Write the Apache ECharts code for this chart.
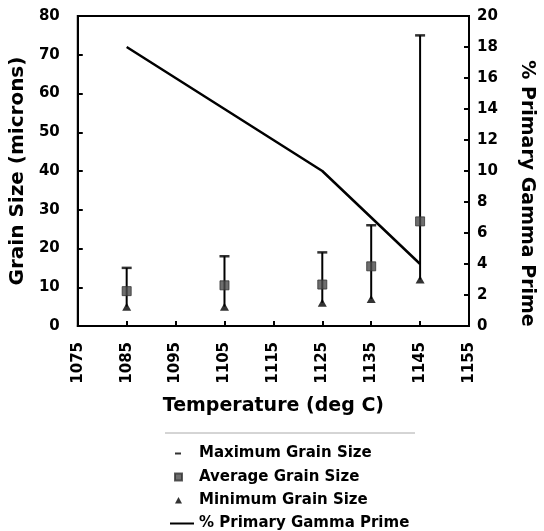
<!DOCTYPE html>
<html>
<head>
<meta charset="utf-8">
<script src="https://cdn.jsdelivr.net/npm/echarts@6/dist/echarts.min.js"></script>
<style>
html,body{margin:0;padding:0;background:#fff;}
#chart{width:544px;height:531px;}
</style>
</head>
<body>
<div id="chart"></div>
<script>
const temperatures = [1085, 1105, 1125, 1135, 1145];
const maxGrain = [15, 18, 19, 26, 75];
const avgGrain = [9, 10.5, 10.7, 15.4, 27];
const minGrain = [5, 5, 6, 7, 12];
const gammaPrime = [18, 14, 10, 7, 4];

const FONT = '"DejaVu Sans", "Liberation Sans", Arial, sans-serif';
const chart = echarts.init(document.getElementById('chart'), null, {renderer: 'canvas'});

const pair = (ys) => temperatures.map((t, i) => [t, ys[i]]);
const barData = temperatures.map((t, i) => [t, minGrain[i], maxGrain[i]]);

const option = {
  backgroundColor: '#fff',
  animation: false,
  grid: {left: 76, right: 68, top: 16, bottom: 205, show: true, borderColor: '#000', borderWidth: 2},
  xAxis: {
    type: 'value', min: 1075, max: 1155, interval: 10,
    name: 'Temperature (deg C)', nameLocation: 'middle', nameGap: 71,
    nameTextStyle: {fontFamily: FONT, fontWeight: 'bold', fontSize: 19, color: '#000'},
    axisLine: {lineStyle: {color: '#000', width: 2}},
    axisTick: {inside: true, length: 5, lineStyle: {color: '#000', width: 2}},
    axisLabel: {rotate: 90, margin: 16, fontFamily: FONT, fontWeight: 'bold', fontSize: 15, color: '#000',
                formatter: (v) => String(v)},
    splitLine: {show: false}
  },
  yAxis: [{
    type: 'value', min: 0, max: 80, interval: 10,
    name: 'Grain Size (microns)', nameLocation: 'middle', nameGap: 40,
    nameTextStyle: {fontFamily: FONT, fontWeight: 'bold', fontSize: 20, color: '#000'},
    axisLine: {show: true, lineStyle: {color: '#000', width: 2}},
    axisTick: {show: true, inside: true, length: 5, lineStyle: {color: '#000', width: 2}},
    axisLabel: {margin: 18, fontFamily: FONT, fontWeight: 'bold', fontSize: 15, color: '#000'},
    splitLine: {show: false}
  }, {
    type: 'value', min: 0, max: 20, interval: 2, position: 'right',
    name: '% Primary Gamma Prime', nameLocation: 'middle', nameGap: 48, nameRotate: -90,
    nameTextStyle: {fontFamily: FONT, fontWeight: 'bold', fontSize: 19, color: '#000', padding: [0, 0, 0, 45]},
    axisLine: {show: true, lineStyle: {color: '#000', width: 2}},
    axisTick: {show: true, inside: true, length: 5, lineStyle: {color: '#000', width: 2}},
    axisLabel: {margin: 8, fontFamily: FONT, fontWeight: 'bold', fontSize: 15, color: '#000'},
    splitLine: {show: false}
  }],
  legend: {
    orient: 'vertical', left: 167, top: 446, padding: 0, itemGap: 8, itemWidth: 26, itemHeight: 14,
    textStyle: {fontFamily: FONT, fontWeight: 'bold', fontSize: 15, color: '#000'},
    data: [
      {name: 'Maximum Grain Size', icon: 'path://M0,0L0,0M7,6H13V8H7ZM26,14L26,14'},
      {name: 'Average Grain Size', icon: 'path://M0,0L0,0M7,3.5H14V10.5H7ZM26,14L26,14'},
      {name: 'Minimum Grain Size', icon: 'path://M0,0L0,0M10.5,3.5L14,10H7ZM26,14L26,14'},
      {name: '% Primary Gamma Prime', icon: 'path://M0,0L0,0M2,6H26V8H2ZM26,14L26,14'}
    ]
  },
  graphic: [{
    type: 'line', shape: {x1: 165, y1: 433, x2: 415, y2: 433},
    style: {stroke: '#aaa', lineWidth: 1}
  }],
  series: [{
    type: 'custom', name: 'range', silent: true, data: barData,
    renderItem: function (params, api) {
      const lo = api.coord([api.value(0), api.value(1)]);
      const hi = api.coord([api.value(0), api.value(2)]);
      return {type: 'line', shape: {x1: lo[0], y1: lo[1], x2: hi[0], y2: hi[1]},
              style: {stroke: '#000', lineWidth: 2}};
    },
    encode: {x: 0, y: [1, 2]}
  }, {
    type: 'scatter', name: 'Maximum Grain Size', data: pair(maxGrain),
    symbol: 'rect', symbolSize: [10, 2.5], itemStyle: {color: '#000'}
  }, {
    type: 'scatter', name: 'Average Grain Size', data: pair(avgGrain),
    symbol: 'rect', symbolSize: 9, itemStyle: {color: '#4a4a4a', borderColor: '#333', borderWidth: 1}
  }, {
    type: 'scatter', name: 'Minimum Grain Size', data: pair(minGrain),
    symbol: 'triangle', symbolSize: [9, 8], itemStyle: {color: '#000'}
  }, {
    type: 'line', name: '% Primary Gamma Prime', yAxisIndex: 1, data: pair(gammaPrime),
    showSymbol: false, symbol: 'none', lineStyle: {color: '#000', width: 2.5}, itemStyle: {color: '#000'}
  }]
};
chart.setOption(option);
</script>
</body>
</html>
